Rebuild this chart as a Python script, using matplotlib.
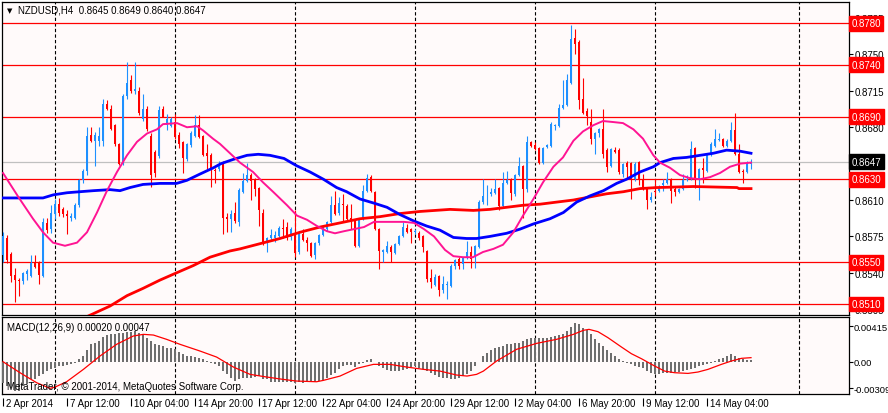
import numpy as np
import matplotlib
matplotlib.use('Agg')
import matplotlib.pyplot as plt

plt.rcParams['font.family'] = ['Liberation Sans', 'DejaVu Sans']
plt.rcParams['font.size'] = 7

# ---- candle data, NZDUSD H4, in pips (8645 -> 0.8645), bar 0 = 2 Apr 20:00
opens = [8557, 8573, 8558, 8538, 8533, 8532, 8539, 8537, 8550, 8550,
         8537, 8588, 8582, 8597, 8606, 8601, 8597, 8593, 8593, 8605,
         8629, 8638, 8673, 8667, 8667, 8667, 8702, 8698, 8682, 8664,
         8646, 8710, 8725, 8715, 8715, 8688, 8698, 8672, 8656, 8652,
         8698, 8682, 8681, 8685, 8673, 8666, 8649, 8663, 8672, 8682,
         8672, 8655, 8653, 8639, 8640, 8646, 8594, 8592, 8598, 8589,
         8618, 8628, 8634, 8630, 8622, 8598, 8569, 8573, 8573, 8575,
         8583, 8584, 8574, 8577, 8560, 8577, 8572, 8569, 8557, 8569,
         8576, 8582, 8589, 8605, 8598, 8606, 8604, 8593, 8590, 8566,
         8592, 8619, 8632, 8618, 8582, 8560, 8560, 8565, 8559, 8568,
         8575, 8583, 8582, 8579, 8578, 8575, 8561, 8535, 8528, 8537,
         8523, 8528, 8527, 8547, 8553, 8548, 8554, 8560, 8555, 8565,
         8608, 8614, 8616, 8617, 8622, 8604, 8626, 8630, 8616, 8634,
         8643, 8621, 8666, 8663, 8660, 8646, 8661, 8662, 8681, 8681,
         8699, 8701, 8723, 8766, 8762, 8707, 8696, 8685, 8669, 8674,
         8678, 8658, 8643, 8658, 8658, 8635, 8646, 8646, 8630, 8647,
         8630, 8622, 8610, 8619, 8619, 8624, 8626, 8630, 8621, 8618,
         8621, 8629, 8630, 8660, 8630, 8641, 8638, 8653, 8662, 8668,
         8669, 8662, 8667, 8677, 8654, 8638, 8637, 8645]
highs = [8579, 8576, 8560, 8545, 8535, 8541, 8544, 8557, 8557, 8551,
         8593, 8593, 8605, 8611, 8612, 8603, 8600, 8598, 8607, 8630,
         8640, 8680, 8680, 8675, 8680, 8707, 8706, 8701, 8683, 8665,
         8712, 8743, 8730, 8743, 8719, 8712, 8700, 8674, 8658, 8700,
         8700, 8693, 8690, 8693, 8675, 8667, 8665, 8676, 8692, 8692,
         8673, 8664, 8655, 8641, 8648, 8648, 8598, 8600, 8608, 8622,
         8636, 8646, 8636, 8631, 8623, 8601, 8574, 8582, 8580, 8585,
         8592, 8589, 8584, 8600, 8579, 8582, 8574, 8570, 8570, 8577,
         8585, 8590, 8614, 8619, 8613, 8616, 8606, 8606, 8591, 8593,
         8624, 8635, 8634, 8619, 8583, 8563, 8571, 8567, 8569, 8576,
         8589, 8587, 8583, 8582, 8580, 8576, 8562, 8544, 8539, 8538,
         8537, 8532, 8548, 8553, 8555, 8555, 8571, 8566, 8567, 8610,
         8630, 8624, 8622, 8630, 8623, 8637, 8638, 8631, 8635, 8651,
         8644, 8672, 8667, 8666, 8661, 8661, 8664, 8685, 8683, 8702,
         8725, 8731, 8778, 8775, 8764, 8727, 8699, 8698, 8675, 8679,
         8698, 8660, 8660, 8661, 8660, 8646, 8648, 8647, 8647, 8648,
         8635, 8623, 8618, 8630, 8624, 8630, 8637, 8631, 8623, 8622,
         8635, 8634, 8667, 8661, 8641, 8650, 8655, 8666, 8678, 8674,
         8670, 8669, 8685, 8694, 8664, 8640, 8648, 8649]
lows = [8550, 8549, 8531, 8512, 8518, 8529, 8533, 8536, 8545, 8529,
        8536, 8578, 8578, 8592, 8595, 8594, 8577, 8590, 8592, 8603,
        8626, 8634, 8666, 8643, 8662, 8662, 8697, 8677, 8662, 8644,
        8644, 8707, 8713, 8712, 8692, 8686, 8676, 8623, 8632, 8650,
        8690, 8677, 8680, 8669, 8660, 8636, 8648, 8661, 8671, 8670,
        8652, 8640, 8623, 8626, 8638, 8577, 8579, 8579, 8588, 8585,
        8617, 8627, 8610, 8614, 8585, 8567, 8560, 8571, 8570, 8574,
        8573, 8572, 8572, 8555, 8558, 8571, 8561, 8555, 8553, 8567,
        8575, 8580, 8588, 8596, 8596, 8590, 8591, 8582, 8565, 8565,
        8591, 8618, 8618, 8581, 8544, 8550, 8559, 8550, 8558, 8567,
        8574, 8578, 8569, 8577, 8572, 8560, 8531, 8525, 8527, 8518,
        8521, 8515, 8526, 8544, 8544, 8544, 8553, 8545, 8545, 8564,
        8606, 8605, 8614, 8616, 8600, 8603, 8625, 8610, 8614, 8633,
        8593, 8618, 8661, 8658, 8645, 8645, 8660, 8661, 8677, 8680,
        8698, 8700, 8722, 8750, 8698, 8693, 8682, 8664, 8654, 8671,
        8650, 8637, 8642, 8655, 8635, 8632, 8630, 8611, 8628, 8624,
        8620, 8601, 8608, 8614, 8618, 8619, 8625, 8607, 8614, 8617,
        8620, 8628, 8629, 8622, 8610, 8626, 8637, 8652, 8661, 8667,
        8661, 8661, 8666, 8653, 8636, 8626, 8636, 8640]
closes = [8575, 8552, 8537, 8533, 8532, 8540, 8542, 8549, 8546, 8538,
          8589, 8581, 8598, 8606, 8598, 8597, 8595, 8595, 8605, 8629,
          8638, 8672, 8667, 8673, 8672, 8702, 8698, 8678, 8664, 8645,
          8710, 8723, 8715, 8717, 8694, 8698, 8678, 8634, 8636, 8697,
          8690, 8688, 8688, 8671, 8664, 8650, 8664, 8674, 8682, 8671,
          8653, 8652, 8640, 8638, 8645, 8593, 8592, 8597, 8590, 8620,
          8628, 8634, 8628, 8621, 8600, 8569, 8573, 8576, 8576, 8583,
          8582, 8573, 8582, 8559, 8577, 8572, 8569, 8556, 8569, 8576,
          8581, 8589, 8605, 8597, 8607, 8605, 8592, 8590, 8566, 8592,
          8619, 8631, 8619, 8582, 8561, 8562, 8566, 8560, 8568, 8575,
          8584, 8579, 8579, 8580, 8573, 8565, 8534, 8531, 8536, 8523,
          8529, 8529, 8547, 8552, 8547, 8554, 8560, 8553, 8566, 8608,
          8614, 8614, 8618, 8621, 8604, 8626, 8629, 8617, 8634, 8643,
          8621, 8666, 8662, 8659, 8646, 8660, 8663, 8683, 8682, 8699,
          8701, 8725, 8765, 8760, 8706, 8694, 8691, 8669, 8674, 8678,
          8654, 8642, 8659, 8656, 8637, 8645, 8642, 8629, 8645, 8630,
          8622, 8610, 8613, 8618, 8622, 8626, 8630, 8619, 8618, 8621,
          8629, 8630, 8659, 8630, 8640, 8639, 8653, 8664, 8669, 8669,
          8662, 8667, 8677, 8654, 8637, 8637, 8645, 8647]

# moving averages: (bar index, pips)
pink_idx = [0, 4, 7.5, 10, 12.5, 15.5, 18.5, 21, 23.5, 26, 28.5, 31, 33.5, 36, 38.5, 40,
            43.5, 46, 48.5, 50, 52.5, 54.25, 56.75, 59.25, 62.5, 65, 67.5, 71, 73.5, 76,
            78.5, 81, 83, 85.25, 87.75, 90.25, 92.75, 95.25, 97.75, 100.25, 102.75, 105.25,
            107.75, 110.5, 112.6, 115, 117.5, 120, 122.6, 125, 127.6, 130, 132.6, 135,
            137.6, 140, 142.6, 145, 147.6, 150, 152.6, 155, 157.6, 160, 162.6, 164.25,
            166.75, 169.25, 171.75, 174.25, 176.75, 179.25, 181.75, 184.25, 187]
pink_val = [8636, 8612, 8592, 8579, 8569, 8566, 8569, 8579, 8598, 8619, 8637, 8653, 8666,
            8674, 8678, 8683, 8684, 8680, 8681, 8677, 8669, 8664, 8655, 8646, 8637, 8627,
            8618, 8605, 8595, 8591, 8585, 8580, 8578, 8580, 8582, 8584, 8589, 8589, 8589,
            8589, 8588, 8582, 8575, 8562, 8556, 8555, 8555, 8560, 8563, 8567, 8579, 8595,
            8611, 8627, 8642, 8651, 8667, 8676, 8682, 8686, 8685, 8684, 8678, 8669, 8653,
            8646, 8641, 8634, 8631, 8630, 8632, 8636, 8642, 8645, 8646]
blue_idx = [0, 10, 12.6, 16, 19.25, 22.6, 26.75, 29.25, 31.75, 35, 39.25, 43.4, 46, 49.25,
            52.6, 54.5, 57.5, 61, 63.8, 66.75, 70.25, 73.4, 76.75, 80.1, 83.4, 85.9, 89.25,
            92.75, 96, 99.25, 102.6, 105.9, 109.25, 112.6, 115.9, 118.4, 121.75, 125.9,
            129.25, 132.6, 136.75, 140.1, 143.4, 146.75, 150.1, 153.4, 155.9, 159.25, 162.6,
            164.25, 167.6, 170.9, 174.25, 177.6, 180.9, 184.25, 187]
blue_val = [8612, 8612, 8615, 8617, 8618, 8619, 8620, 8619, 8622, 8625, 8626, 8626, 8629,
            8635, 8641, 8645, 8649, 8653, 8654, 8653, 8650, 8643, 8637, 8630, 8622, 8618,
            8611, 8607, 8603, 8596, 8590, 8585, 8581, 8574, 8573, 8573, 8575, 8578, 8582,
            8587, 8592, 8598, 8608, 8614, 8619, 8626, 8630, 8637, 8642, 8646, 8650, 8651,
            8653, 8655, 8658, 8657, 8655]
red_idx = [20.5, 26.75, 31, 35, 39.25, 43.4, 47.6, 51.75, 54.25, 56.75, 59.25, 64.25, 69.25,
           74.25, 79.25, 84.25, 89.25, 94.25, 99.25, 104.25, 111.75, 117.6, 121.75, 125.9,
           130.1, 134.25, 138.4, 142.6, 146.75, 150.9, 155.1, 159.25, 163.4, 172.6, 183.5,
           184, 187]
red_val = [8497, 8508, 8518, 8525, 8533, 8540, 8547, 8555, 8558, 8561, 8563, 8568, 8573,
           8579, 8584, 8588, 8592, 8594, 8597, 8599, 8601, 8600, 8601, 8603, 8605, 8606,
           8608, 8610, 8613, 8616, 8618, 8621, 8622, 8623, 8622, 8621, 8621]

# MACD(12,26,9) main line as histogram, in 1e-5
macd_hist = [-244, -283, -310, -341, -341, -283, -256, -206, -206, -167,
             -147, -109, -89, -70, -50, -50, -39, -31, -12, 27,
             66, 132, 202, 221, 241, 287, 310, 326, 326, 330,
             338, 345, 349, 357, 338, 318, 279, 241, 202, 190,
             182, 163, 163, 144, 116, 85, 66, 66, 54, 47,
             27, 8, -12, -31, -50, -109, -147, -186, -225, -206,
             -186, -186, -186, -178, -167, -206, -206, -233, -233, -233,
             -233, -233, -233, -244, -241, -244, -241, -233, -233, -225,
             -217, -186, -155, -128, -89, -50, -39, -39, -62, -31,
             -12, 16, 27, 0, -50, -70, -101, -109, -109, -109,
             -101, -89, -62, -50, -70, -89, -109, -128, -155, -175,
             -186, -194, -206, -206, -186, -167, -147, -109, -50, 0,
             66, 105, 132, 155, 171, 182, 202, 210, 221, 221,
             241, 260, 272, 272, 272, 272, 279, 287, 299, 310,
             326, 357, 404, 454, 435, 396, 370, 318, 260, 213,
             182, 132, 105, 66, 27, 8, -12, -31, -50, -62,
             -78, -109, -128, -140, -140, -132, -128, -128, -124, -116,
             -109, -101, -89, -70, -50, -39, -31, -12, 8, 27,
             47, 66, 85, 66, 47, 35, 19, 20]
sig_idx = [0, 4.25, 8.4, 11.75, 13, 15.9, 20.1, 24.25, 28.4, 32.6, 35.1, 37.6, 40.9, 44.25,
           49.25, 53.4, 57.6, 61.75, 65.9, 70.1, 73.4, 78.4, 80.1, 84.25, 88.4, 92.6, 96.75,
           100.9, 105.1, 109.25, 113.4, 116, 118.4, 120.1, 123.4, 128.4, 133.4, 138.4, 142.6,
           145.1, 146.5, 148.75, 151.25, 154.6, 157.1, 159.6, 162.9, 165.4, 167.9, 171.25,
           173.75, 176.25, 179.6, 182.1, 184.6, 187]
sig_val = [0, -128, -244, -310, -295, -233, -89, 66, 202, 299, 318, 310, 260, 202, 124, 54,
           -62, -147, -178, -206, -225, -233, -217, -167, -78, -31, -31, -62, -89, -109, -155,
           -167, -147, -109, 8, 144, 213, 260, 318, 365, 376, 349, 279, 171, 93, 35, -50,
           -109, -128, -136, -120, -89, -31, 8, 39, 47]

levels = [0.8780, 0.8740, 0.8690, 0.8630, 0.8550, 0.8510]
last_price = 0.8647
price_ticks = [0.8505, 0.8540, 0.8575, 0.8610, 0.8680, 0.8715, 0.8750, 0.8785]
macd_ticks = [0.00415, 0.0, -0.00309]
macd_tick_labels = ['0.00415', '0.00', '-0.00309']
date_labels = ['2 Apr 2014', '7 Apr 12:00', '10 Apr 04:00', '14 Apr 20:00', '17 Apr 12:00',
               '22 Apr 04:00', '24 Apr 20:00', '29 Apr 12:00', '2 May 04:00', '6 May 20:00',
               '9 May 12:00', '14 May 04:00']
date_bars = [0, 16, 32, 48, 64, 80, 96, 112, 128, 144, 160, 176]
week_bars = [13, 43, 73, 103, 133, 163, 199]

o = np.array(opens) / 1e4
h = np.array(highs) / 1e4
l = np.array(lows) / 1e4
c = np.array(closes) / 1e4
x = np.arange(len(o))

W, H = 888, 414
BG = '#fffafa'
BULL = '#1e90ff'
BEAR = '#ff0000'
fig = plt.figure(figsize=(W / 100, H / 100), dpi=100)
fig.patch.set_facecolor('white')


def box(l_px, t_px, r_px, b_px):
    return [l_px / W, 1 - b_px / H, (r_px - l_px) / W, (b_px - t_px) / H]


ax = fig.add_axes(box(2, 3, 849, 316))
am = fig.add_axes(box(2, 318, 849, 395))
for a in (ax, am):
    a.set_facecolor(BG)
    a.set_xlim(-0.25, 211.5)
    for s in a.spines.values():
        s.set_linewidth(0.9)
        s.set_color('black')
    for wb in week_bars:
        a.axvline(wb, color='black', lw=0.8, ls=(0, (3, 2)), zorder=1)
    a.yaxis.tick_right()
    a.tick_params(axis='y', length=3, width=0.8, pad=1.2, labelsize=7, colors='black')
    a.tick_params(axis='x', length=0, labelbottom=False)
am.tick_params(axis='y', pad=0.6, labelsize=6.8)

ax.set_ylim(0.84994, 0.88005)

# price levels and bid line
for lv in levels:
    ax.axhline(lv, color='red', lw=0.9, zorder=2)
ax.axhline(last_price, color='#c0c0c0', lw=0.9, zorder=1.5)

# candles
col = np.where(c >= o, BULL, BEAR)
ax.vlines(x, l, h, colors=col, lw=0.8, zorder=3)
body = np.maximum(np.abs(c - o), 0.00003)
ax.bar(x, body, bottom=np.minimum(o, c), width=0.7, color=col, linewidth=0, zorder=4)

# moving averages
ax.plot(red_idx, np.array(red_val) / 1e4, color='#ff0000', lw=2.0, zorder=5)
ax.plot(blue_idx, np.array(blue_val) / 1e4, color='#0000ff', lw=2.0, zorder=5)
ax.plot(pink_idx, np.array(pink_val) / 1e4, color='#ff1493', lw=1.4, zorder=5)

ax.set_yticks(price_ticks)
ax.set_yticklabels(['%.4f' % t for t in price_ticks])

tr = ax.get_yaxis_transform()
for lv in levels:
    ax.text(1.003, lv, '%.4f' % lv, transform=tr, ha='left', va='center', color='white',
            fontsize=7, clip_on=False, zorder=10,
            bbox=dict(boxstyle='square,pad=0.25', facecolor='red', edgecolor='red'))
ax.text(1.003, last_price, '%.4f' % last_price, transform=tr, ha='left', va='center',
        color='white', fontsize=7, clip_on=False, zorder=10,
        bbox=dict(boxstyle='square,pad=0.25', facecolor='black', edgecolor='black'))

ax.text(0.006, 0.975, '\u25bc', transform=ax.transAxes, fontsize=5, va='center', ha='left',
        family=['DejaVu Sans'])
ax.text(0.019, 0.975, 'NZDUSD,H4  0.8645 0.8649 0.8640 0.8647', transform=ax.transAxes,
        fontsize=7, va='center', ha='left')

# MACD panel
am.set_ylim(-0.003755, 0.005197)
am.bar(x, np.array(macd_hist) / 1e5, width=0.65, color='#6e6e6e', linewidth=0, zorder=3)
am.plot(sig_idx, np.array(sig_val) / 1e5, color='red', lw=0.9, zorder=4)
am.set_yticks(macd_ticks)
am.set_yticklabels(macd_tick_labels)
am.text(0.006, 0.87, 'MACD(12,26,9) 0.00020 0.00047', transform=am.transAxes, fontsize=7,
        va='center', ha='left')
am.text(0.006, 0.1, 'MetaTrader, \u00a9 2001-2014, MetaQuotes Software Corp.',
        transform=am.transAxes, fontsize=7, va='center', ha='left', zorder=6)

xt = am.get_xaxis_transform()
am.vlines(date_bars, -0.16, -0.05, transform=xt, colors='black', lw=0.8, clip_on=False)
for b, lab in zip(date_bars, date_labels):
    am.text(b + 0.8, -0.12, lab, transform=xt, fontsize=7, ha='left', va='center')

fig.savefig('out.png', dpi=100, facecolor='white')
